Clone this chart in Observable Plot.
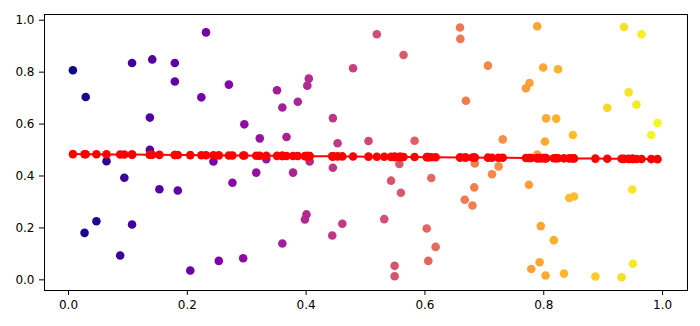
<!DOCTYPE html>
<html>
<head>
<meta charset="utf-8">
<script src="https://cdn.jsdelivr.net/npm/d3@7"></script>
<script src="https://cdn.jsdelivr.net/npm/@observablehq/plot@0.6"></script>
<style>
  html, body { margin: 0; padding: 0; background: #fff; }
  #chart svg { display: block; }
</style>
</head>
<body>
<div id="chart"></div>
<script>
const xs = [0.0074, 0.029, 0.107, 0.141, 0.137, 0.137, 0.064, 0.094, 0.047, 0.027,
  0.107, 0.087, 0.2315, 0.179, 0.179, 0.2236, 0.270, 0.296, 0.322, 0.244,
  0.316, 0.276, 0.153, 0.184, 0.253, 0.294, 0.205, 0.479, 0.4045, 0.402,
  0.351, 0.360, 0.386, 0.445, 0.367, 0.453, 0.333, 0.406, 0.445, 0.378,
  0.4006, 0.398, 0.461, 0.444, 0.360, 0.519, 0.564, 0.659, 0.6596, 0.669,
  0.505, 0.5826, 0.557, 0.543, 0.5595, 0.6107, 0.5315, 0.603, 0.618, 0.6057,
  0.549, 0.549, 0.667, 0.789, 0.706, 0.799, 0.824, 0.776, 0.770, 0.804,
  0.821, 0.849, 0.731, 0.802, 0.789, 0.684, 0.724, 0.713, 0.683, 0.680,
  0.775, 0.843, 0.851, 0.795, 0.817, 0.793, 0.779, 0.803, 0.834, 0.935,
  0.9646, 0.943, 0.956, 0.907, 0.9915, 0.981, 0.949, 0.950, 0.887, 0.931];
const ys = [0.807, 0.704, 0.835, 0.849, 0.625, 0.501, 0.457, 0.393, 0.226, 0.181,
  0.213, 0.094, 0.953, 0.835, 0.764, 0.703, 0.752, 0.599, 0.545, 0.456,
  0.413, 0.374, 0.349, 0.344, 0.073, 0.083, 0.036, 0.815, 0.775, 0.748,
  0.730, 0.664, 0.686, 0.623, 0.550, 0.526, 0.465, 0.456, 0.432, 0.413,
  0.252, 0.2325, 0.216, 0.171, 0.140, 0.946, 0.866, 0.972, 0.928, 0.690,
  0.535, 0.536, 0.446, 0.382, 0.3355, 0.392, 0.234, 0.198, 0.127, 0.073,
  0.054, 0.014, 0.3085, 0.977, 0.825, 0.818, 0.811, 0.758, 0.738, 0.622,
  0.621, 0.558, 0.541, 0.533, 0.483, 0.4485, 0.437, 0.407, 0.356, 0.2865,
  0.366, 0.315, 0.321, 0.207, 0.153, 0.068, 0.042, 0.0166, 0.024, 0.974,
  0.946, 0.722, 0.675, 0.663, 0.604, 0.558, 0.348, 0.062, 0.013, 0.010];
const xTicks = [0, 0.2, 0.4, 0.6, 0.8, 1.0];
const yTicks = [0, 0.2, 0.4, 0.6, 0.8, 1.0];

const points = xs.map((x, i) => ({x, y: ys[i]}));

// least-squares fit of the scattered data (the red line with markers)
const mx = d3.mean(xs), my = d3.mean(ys);
const slope = d3.sum(points, p => (p.x - mx) * (p.y - my)) / d3.sum(points, p => (p.x - mx) ** 2);
const intercept = my - slope * mx;
const fit = xs.slice().sort(d3.ascending).map(x => ({x, y: intercept + slope * x}));

const chart = Plot.plot({
  width: 700,
  height: 326,
  marginLeft: 44,
  marginRight: 13,
  marginTop: 14,
  marginBottom: 36,
  style: {fontFamily: "DejaVu Sans", fontSize: "12px", color: "black", background: "white"},
  x: {domain: [-0.0404, 1.042], ticks: xTicks, tickFormat: d3.format(".1f"), tickSize: 5, tickPadding: 5, label: null},
  y: {domain: [-0.041, 1.022], ticks: yTicks, tickFormat: d3.format(".1f"), tickSize: 5, tickPadding: 5, label: null},
  color: {type: "linear", scheme: "plasma", domain: d3.extent(xs)},
  marks: [
    Plot.dot(points, {x: "x", y: "y", r: 4.3, fill: "x", stroke: null}),
    Plot.line(fit, {x: "x", y: "y", stroke: "red", strokeWidth: 2}),
    Plot.dot(fit, {x: "x", y: "y", r: 4.3, fill: "red", stroke: null}),
    Plot.frame({stroke: "black", strokeWidth: 1})
  ]
});
document.getElementById("chart").appendChild(chart);
</script>
</body>
</html>
